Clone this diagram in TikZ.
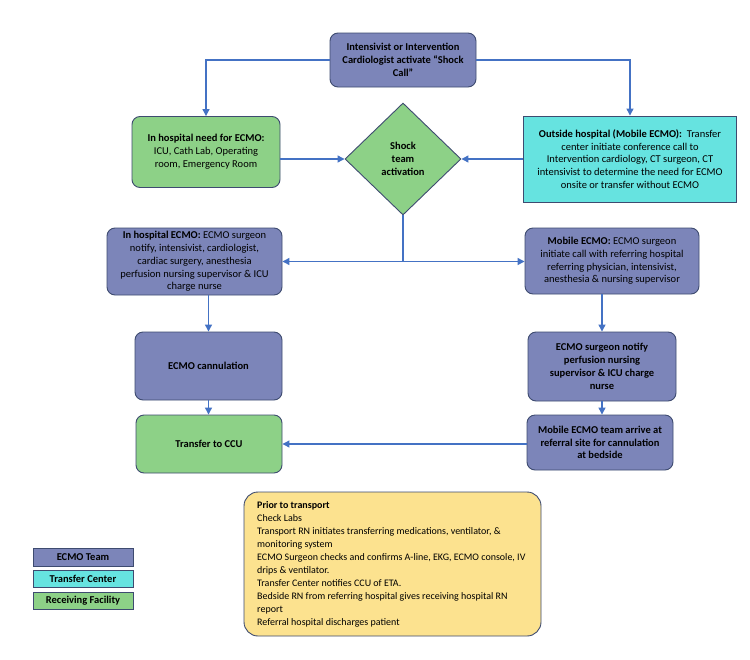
\documentclass[tikz,border=0pt]{standalone}
\usepackage{fontspec}
\setmainfont{Carlito}
\usetikzlibrary{shapes.geometric,arrows.meta,calc}
\definecolor{ecmo}{HTML}{7C85B9}
\definecolor{tcen}{HTML}{66E3E0}
\definecolor{recv}{HTML}{8DD187}
\definecolor{prior}{HTML}{FCE28F}
\definecolor{edge}{HTML}{3E4B70}
\definecolor{arr}{HTML}{4472C4}
\begin{document}
\begin{tikzpicture}[x=1pt,y=-1pt,
  box/.style={draw=edge,line width=0.9pt,rounded corners=8pt,align=center,inner sep=2pt,
    font=\fontsize{10.5}{12.8}\selectfont},
  team/.style={box,fill=ecmo},
  center/.style={box,fill=tcen},
  facility/.style={box,fill=recv},
  bold/.style={font=\fontsize{10.5}{12.8}\selectfont\bfseries},
  legbox/.style={draw=edge,line width=0.9pt,minimum width=100pt,inner sep=0pt,
    font=\fontsize{10.5}{11}\selectfont\bfseries},
  conn/.style={draw=arr,line width=1.2pt,-{Triangle[length=7pt,width=7pt]}},
  plain/.style={draw=arr,line width=1.2pt}]
\useasboundingbox[fill=white] (0,0) rectangle (750,659);

\node[team,bold,minimum width=146pt,minimum height=54pt] (top) at (403,60)
  {Intensivist or Intervention\\Cardiologist activate “Shock\\Call”};
\node[facility,minimum width=148pt,minimum height=71pt] (need) at (206,152)
  {\textbf{In hospital need for ECMO:}\\ICU, Cath Lab, Operating\\room, Emergency Room};
\node[center,rounded corners=0pt,minimum width=213pt,minimum height=86pt] (outside) at (630,159)
  {\textbf{Outside hospital (Mobile ECMO):}\ \ Transfer\\center initiate conference call to\\Intervention cardiology, CT surgeon, CT\\intensivist to determine the need for ECMO\\onsite or transfer without ECMO};
\node[diamond,draw=edge,line width=0.9pt,fill=recv,minimum width=116pt,minimum height=112pt,
  inner sep=0pt,align=center,bold] (dia) at (403,159)
  {Shock\\team\\activation};
\node[team,minimum width=175pt,minimum height=67pt] (inhosp) at (194.5,261.5)
  {\textbf{In hospital ECMO:} ECMO surgeon\\notify, intensivist, cardiologist,\\cardiac surgery, anesthesia\\perfusion nursing supervisor \& ICU\\charge nurse};
\node[team,minimum width=174pt,minimum height=66pt] (mobile) at (612,261)
  {\textbf{Mobile ECMO:} ECMO surgeon\\initiate call with referring hospital\\referring physician, intensivist,\\anesthesia \& nursing supervisor};
\node[team,bold,minimum width=147pt,minimum height=68pt] (cann) at (208.5,366)
  {ECMO cannulation};
\node[team,bold,minimum width=148pt,minimum height=69pt] (notify) at (602,366.5)
  {ECMO surgeon notify\\perfusion nursing\\supervisor \& ICU charge\\nurse};
\node[facility,bold,minimum width=146pt,minimum height=58pt] (ccu) at (209,444)
  {Transfer to CCU};
\node[team,bold,minimum width=146pt,minimum height=55pt] (mteam) at (600,442.5)
  {Mobile ECMO team arrive at\\referral site for cannulation\\at bedside};
\node[draw=edge,line width=0.9pt,fill=prior,rounded corners=14pt,minimum width=297pt,minimum height=144pt] (prior) at (392.5,564) {};
\node[anchor=north west,inner sep=0pt,align=left,font=\fontsize{10}{13}\selectfont] (priortext) at (257,501)
  {\textbf{Prior to transport}\\
   Check Labs\\
   Transport RN initiates transferring medications, ventilator, \&\\
   monitoring system\\
   ECMO Surgeon checks and confirms A-line, EKG, ECMO console, IV\\
   drips \& ventilator.\\
   Transfer Center notifies CCU of ETA.\\
   Bedside RN from referring hospital gives receiving hospital RN\\
   report\\
   Referral hospital discharges patient};

\node[legbox,fill=ecmo,minimum height=18pt] (lteam) at (83,557) {ECMO Team};
\node[legbox,fill=tcen,minimum height=17pt] (lcen) at (83,578.5) {Transfer Center};
\node[legbox,fill=recv,minimum height=17pt] (lrec) at (83,600.5) {Receiving Facility};

\draw[conn] (top.west) -| (need.north);
\draw[conn] (top.east) -| (outside.north);
\draw[conn] (need.east |- dia.west) -- (dia.west);
\draw[conn] (outside.west |- dia.east) -- (dia.east);
\coordinate (split) at (dia.south |- inhosp.east);
\draw[plain] (dia.south) -- (split);
\draw[conn] (split) -- (inhosp.east);
\draw[conn] (split) -- (mobile.west |- split);
\draw[conn] (cann.north |- inhosp.south) -- (cann.north);
\draw[conn] (cann.south) -- (cann.south |- ccu.north);
\draw[conn] (notify.north |- mobile.south) -- (notify.north);
\draw[conn] (notify.south) -- (notify.south |- mteam.north);
\draw[conn] (mteam.west |- ccu.east) -- (ccu.east);
\end{tikzpicture}
\end{document}
